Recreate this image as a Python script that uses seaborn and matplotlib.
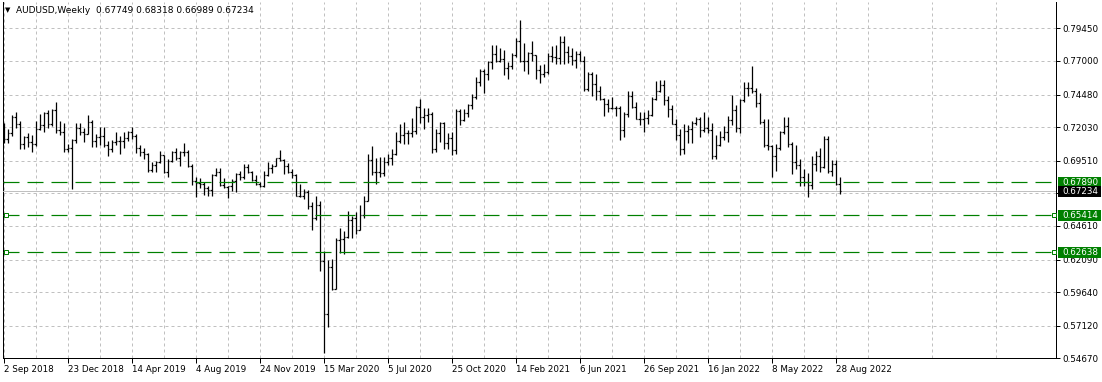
import numpy as np
import pandas as pd
import matplotlib
matplotlib.use("Agg")
import matplotlib.pyplot as plt
import matplotlib.transforms as mtransforms
from matplotlib.patches import Rectangle
from matplotlib.ticker import FixedLocator
import seaborn as sns

# ---------------- data ----------------
symbol = "AUDUSD"
timeframe = "Weekly"

week_open = [
    0.7193, 0.7112, 0.7160, 0.7280, 0.7226, 0.7075, 0.7128, 0.7095, 0.7079, 0.7192,
    0.7221, 0.7308, 0.7225, 0.7329, 0.7185, 0.7164, 0.7038, 0.7047,
    0.7110, 0.7198, 0.7168, 0.7155, 0.7245, 0.7096, 0.7130, 0.7136, 0.7071, 0.7040,
    0.7090, 0.7096, 0.7096, 0.7118, 0.7168, 0.7133, 0.7048, 0.7020, 0.7003, 0.6881,
    0.6922, 0.6941, 0.6993, 0.6867, 0.6948, 0.7019, 0.6972, 0.7020, 0.7019, 0.6909,
    0.6796, 0.6784, 0.6778, 0.6747, 0.6733, 0.6846, 0.6869, 0.6766, 0.6752, 0.6764,
    0.6801, 0.6853, 0.6825, 0.6903, 0.6864, 0.6805, 0.6777, 0.6763, 0.6843, 0.6900,
    0.6915, 0.6972,
    0.6958, 0.6908, 0.6867, 0.6845, 0.6688, 0.6685, 0.6716, 0.6612, 0.6519, 0.6620,
    0.6200, 0.5800, 0.6150, 0.5990, 0.6355, 0.6360, 0.6380, 0.6505, 0.6524, 0.6430,
    0.6540, 0.6650, 0.6960, 0.6868, 0.6865, 0.6861, 0.6940, 0.6975, 0.7003, 0.7100,
    0.7144, 0.7160, 0.7160, 0.7172, 0.7358, 0.7276, 0.7294, 0.7302, 0.7036, 0.7156,
    0.7234, 0.7085, 0.7118, 0.7028, 0.7325, 0.7260, 0.7307, 0.7366, 0.7431, 0.7540,
    0.7625, 0.7599,
    0.7692, 0.7751, 0.7703, 0.7713, 0.7648, 0.7665, 0.7744, 0.7849, 0.7697, 0.7702,
    0.7762, 0.7743, 0.7635, 0.7601, 0.7620, 0.7741, 0.7727, 0.7723, 0.7841, 0.7770,
    0.7737, 0.7710, 0.7751, 0.7701, 0.7488, 0.7602, 0.7525, 0.7478, 0.7412, 0.7376,
    0.7344, 0.7344, 0.7350, 0.7181, 0.7303, 0.7437, 0.7358, 0.7268, 0.7262, 0.7272,
    0.7296, 0.7412, 0.7478, 0.7520, 0.7406, 0.7336, 0.7227, 0.7141, 0.7041, 0.7175,
    0.7186, 0.7231,
    0.7268, 0.7180, 0.7198, 0.7180, 0.6990, 0.7069, 0.7128, 0.7166, 0.7260, 0.7332,
    0.7199, 0.7404, 0.7500, 0.7496, 0.7475, 0.7385, 0.7243, 0.7066, 0.7061, 0.6985,
    0.7047, 0.7165, 0.7215, 0.7077, 0.6939, 0.6919, 0.6829, 0.6794, 0.6767, 0.6930,
    0.6986, 0.6903, 0.7114, 0.6870, 0.6929, 0.67749,
]
week_high = [
    0.7236, 0.7190, 0.7297, 0.7315, 0.7253, 0.7140, 0.7158, 0.7141, 0.7250, 0.7305,
    0.7320, 0.7330, 0.7336, 0.7394, 0.7250, 0.7234, 0.7075, 0.7115,
    0.7236, 0.7236, 0.7196, 0.7296, 0.7255, 0.7150, 0.7206, 0.7205, 0.7097, 0.7107,
    0.7169, 0.7138, 0.7167, 0.7174, 0.7206, 0.7148, 0.7069, 0.7050, 0.7008, 0.6943,
    0.6947, 0.7022, 0.6997, 0.6961, 0.7023, 0.7048, 0.7025, 0.7083, 0.7029, 0.6930,
    0.6826, 0.6818, 0.6793, 0.6760, 0.6852, 0.6894, 0.6894, 0.6820, 0.6762, 0.6810,
    0.6860, 0.6873, 0.6929, 0.6930, 0.6874, 0.6847, 0.6788, 0.6875, 0.6940, 0.6930,
    0.6975, 0.7032,
    0.6965, 0.6934, 0.6890, 0.6850, 0.6775, 0.6737, 0.6730, 0.6638, 0.6685, 0.6650,
    0.6270, 0.6205, 0.6213, 0.6370, 0.6445, 0.6425, 0.6570, 0.6532, 0.6565, 0.6617,
    0.6683, 0.7000, 0.7064, 0.6975, 0.6976, 0.6979, 0.7000, 0.7038, 0.7165, 0.7227,
    0.7243, 0.7184, 0.7275, 0.7362, 0.7413, 0.7345, 0.7345, 0.7320, 0.7191, 0.7244,
    0.7243, 0.7158, 0.7166, 0.7340, 0.7339, 0.7340, 0.7376, 0.7455, 0.7580, 0.7640,
    0.7640, 0.7700,
    0.7820, 0.7819, 0.7800, 0.7785, 0.7690, 0.7760, 0.7870, 0.8007, 0.7838, 0.7769,
    0.7849, 0.7746, 0.7667, 0.7674, 0.7762, 0.7815, 0.7818, 0.7891, 0.7887, 0.7812,
    0.7799, 0.7775, 0.7776, 0.7740, 0.7617, 0.7617, 0.7599, 0.7511, 0.7420, 0.7415,
    0.7427, 0.7365, 0.7360, 0.7317, 0.7478, 0.7478, 0.7392, 0.7317, 0.7316, 0.7334,
    0.7426, 0.7547, 0.7556, 0.7555, 0.7434, 0.7370, 0.7262, 0.7186, 0.7223, 0.7222,
    0.7249, 0.7277,
    0.7278, 0.7314, 0.7277, 0.7236, 0.7141, 0.7171, 0.7208, 0.7285, 0.7441, 0.7370,
    0.7415, 0.7540, 0.7541, 0.7661, 0.7500, 0.7458, 0.7265, 0.7266, 0.7071, 0.7073,
    0.7174, 0.7283, 0.7283, 0.7090, 0.7069, 0.6964, 0.6890, 0.6860, 0.6984, 0.7021,
    0.7047, 0.7137, 0.7136, 0.6960, 0.6960, 0.68318,
]
week_low = [
    0.7085, 0.7085, 0.7140, 0.7200, 0.7040, 0.7041, 0.7057, 0.7020, 0.7060, 0.7182,
    0.7164, 0.7199, 0.7210, 0.7160, 0.7146, 0.7016, 0.7016, 0.6735,
    0.7085, 0.7144, 0.7091, 0.7150, 0.7055, 0.7055, 0.7070, 0.7053, 0.6985, 0.7015,
    0.7070, 0.7004, 0.7050, 0.7102, 0.7115, 0.7010, 0.6988, 0.6961, 0.6864, 0.6865,
    0.6865, 0.6935, 0.6860, 0.6832, 0.6944, 0.6955, 0.6911, 0.6990, 0.6903, 0.6765,
    0.6677, 0.6744, 0.6690, 0.6688, 0.6687, 0.6838, 0.6758, 0.6743, 0.6671, 0.6724,
    0.6716, 0.6808, 0.6812, 0.6860, 0.6798, 0.6769, 0.6754, 0.6757, 0.6838, 0.6857,
    0.6913, 0.6952,
    0.6850, 0.6862, 0.6819, 0.6683, 0.6680, 0.6663, 0.6585, 0.6434, 0.6505, 0.6120,
    0.5506, 0.5705, 0.5980, 0.5985, 0.6255, 0.6253, 0.6370, 0.6372, 0.6402, 0.6430,
    0.6520, 0.6648, 0.6840, 0.6777, 0.6832, 0.6833, 0.6921, 0.6922, 0.6993, 0.7084,
    0.7076, 0.7076, 0.7132, 0.7148, 0.7233, 0.7191, 0.7239, 0.7006, 0.7019, 0.7095,
    0.7036, 0.7040, 0.6991, 0.7000, 0.7220, 0.7250, 0.7280, 0.7340, 0.7411, 0.7510,
    0.7462, 0.7560,
    0.7640, 0.7693, 0.7692, 0.7592, 0.7564, 0.7640, 0.7728, 0.7689, 0.7622, 0.7601,
    0.7699, 0.7563, 0.7532, 0.7580, 0.7599, 0.7691, 0.7675, 0.7675, 0.7676, 0.7687,
    0.7672, 0.7647, 0.7699, 0.7476, 0.7478, 0.7440, 0.7410, 0.7410, 0.7288, 0.7316,
    0.7339, 0.7289, 0.7106, 0.7130, 0.7282, 0.7346, 0.7263, 0.7222, 0.7170, 0.7223,
    0.7287, 0.7406, 0.7470, 0.7371, 0.7277, 0.7225, 0.7108, 0.6993, 0.7000, 0.7084,
    0.7085, 0.7220,
    0.7130, 0.7170, 0.7160, 0.6967, 0.6967, 0.7060, 0.7110, 0.7094, 0.7220, 0.7166,
    0.7158, 0.7390, 0.7435, 0.7461, 0.7354, 0.7230, 0.7054, 0.7030, 0.6829, 0.6870,
    0.7035, 0.7152, 0.7054, 0.6850, 0.6890, 0.6763, 0.6762, 0.6681, 0.6737, 0.6870,
    0.6869, 0.6900, 0.6860, 0.6838, 0.6770, 0.66989,
]
week_close = [
    0.7112, 0.7160, 0.7280, 0.7226, 0.7075, 0.7128, 0.7095, 0.7079, 0.7192, 0.7221,
    0.7308, 0.7225, 0.7329, 0.7185, 0.7164, 0.7038, 0.7047, 0.7110,
    0.7198, 0.7168, 0.7155, 0.7245, 0.7096, 0.7130, 0.7136, 0.7071, 0.7040, 0.7090,
    0.7096, 0.7096, 0.7118, 0.7168, 0.7133, 0.7048, 0.7020, 0.7003, 0.6881, 0.6922,
    0.6941, 0.6993, 0.6867, 0.6948, 0.7019, 0.6972, 0.7020, 0.7019, 0.6909, 0.6796,
    0.6784, 0.6778, 0.6747, 0.6733, 0.6846, 0.6869, 0.6766, 0.6752, 0.6764, 0.6801,
    0.6853, 0.6825, 0.6903, 0.6864, 0.6805, 0.6777, 0.6763, 0.6843, 0.6900, 0.6915,
    0.6972, 0.6958,
    0.6908, 0.6867, 0.6845, 0.6688, 0.6685, 0.6716, 0.6612, 0.6519, 0.6620, 0.6200,
    0.5800, 0.6150, 0.5990, 0.6355, 0.6360, 0.6380, 0.6505, 0.6524, 0.6430, 0.6540,
    0.6650, 0.6960, 0.6868, 0.6865, 0.6861, 0.6940, 0.6975, 0.7003, 0.7100, 0.7144,
    0.7160, 0.7160, 0.7172, 0.7358, 0.7276, 0.7294, 0.7302, 0.7036, 0.7156, 0.7234,
    0.7085, 0.7118, 0.7028, 0.7325, 0.7260, 0.7307, 0.7366, 0.7431, 0.7540, 0.7625,
    0.7599, 0.7692,
    0.7751, 0.7703, 0.7713, 0.7648, 0.7665, 0.7744, 0.7849, 0.7697, 0.7702, 0.7762,
    0.7743, 0.7635, 0.7601, 0.7620, 0.7741, 0.7727, 0.7723, 0.7841, 0.7770, 0.7737,
    0.7710, 0.7751, 0.7701, 0.7488, 0.7602, 0.7525, 0.7478, 0.7412, 0.7376, 0.7344,
    0.7344, 0.7350, 0.7181, 0.7303, 0.7437, 0.7358, 0.7268, 0.7262, 0.7272, 0.7296,
    0.7412, 0.7478, 0.7520, 0.7406, 0.7336, 0.7227, 0.7141, 0.7041, 0.7175, 0.7186,
    0.7231, 0.7268,
    0.7180, 0.7198, 0.7180, 0.6990, 0.7069, 0.7128, 0.7166, 0.7260, 0.7332, 0.7199,
    0.7404, 0.7500, 0.7496, 0.7475, 0.7385, 0.7243, 0.7066, 0.7061, 0.6985, 0.7047,
    0.7165, 0.7215, 0.7077, 0.6939, 0.6919, 0.6829, 0.6794, 0.6767, 0.6930, 0.6986,
    0.6903, 0.7114, 0.6870, 0.6929, 0.6775, 0.67234,
]

date_labels = ["2 Sep 2018", "23 Dec 2018", "14 Apr 2019", "4 Aug 2019", "24 Nov 2019",
               "15 Mar 2020", "5 Jul 2020", "25 Oct 2020", "14 Feb 2021", "6 Jun 2021",
               "26 Sep 2021", "16 Jan 2022", "8 May 2022", "28 Aug 2022"]
date_label_weeks = [0, 16, 32, 48, 64, 80, 96, 112, 128, 144, 160, 176, 192, 208]

price_ticks = [0.79450, 0.77000, 0.74480, 0.72030, 0.69510, 0.67060,
               0.64610, 0.62090, 0.59640, 0.57120, 0.54670]
price_tick_labels = ["0.79450", "0.77000", "0.74480", "0.72030", "0.69510", "",
                     "0.64610", "0.62090", "0.59640", "0.57120", "0.54670"]

level_prices = [0.67890, 0.65414, 0.62638]
level_labels = ["0.67890", "0.65414", "0.62638"]
level_anchored = [False, True, True]
current_price = 0.67234
current_label = "0.67234"

# ---------------- style ----------------
sns.set_theme(style="white")
plt.rcParams["font.family"] = ["DejaVu Sans"]
plt.rcParams["lines.scale_dashes"] = False

W, H = 1102, 382
PT = 0.72  # points per pixel at dpi 100
GREEN = "#008000"
GRID = "#c0c0c0"
FS = 6.3

fig = plt.figure(figsize=(W / 100, H / 100), dpi=100)
fig.patch.set_facecolor("white")
ax_l, ax_r, ax_t, ax_b = 3, 1056, 2, 358.3
ax_w_px = ax_r - ax_l
ax = fig.add_axes([ax_l / W, 1 - ax_b / H, ax_w_px / W, (ax_b - ax_t) / H])
ax.set_facecolor("white")

n = len(week_open)
idx = np.arange(n)
ax.set_xlim(-0.125, -0.125 + ax_w_px / 4.0)
ax.set_ylim(0.54670, 0.81430)

# ---------------- OHLC bars via seaborn ----------------
hl = pd.DataFrame({
    "x": np.repeat(idx, 2).astype(float),
    "price": np.column_stack([week_low, week_high]).ravel(),
    "bar": np.repeat(idx, 2),
})
op = pd.DataFrame({
    "x": np.column_stack([idx - 0.45, idx + 0.0]).ravel(),
    "price": np.repeat(week_open, 2),
    "bar": np.repeat(idx, 2),
})
cl = pd.DataFrame({
    "x": np.column_stack([idx + 0.0, idx + 0.45]).ravel(),
    "price": np.repeat(week_close, 2),
    "bar": np.repeat(idx, 2),
})
for df in (hl, op, cl):
    sns.lineplot(data=df, x="x", y="price", units="bar", estimator=None,
                 color="black", linewidth=1.0 * PT * 1.25, ax=ax, legend=False,
                 solid_capstyle="butt", zorder=4)

# ---------------- grid ----------------
ax.xaxis.set_major_locator(FixedLocator(date_label_weeks))
ax.xaxis.set_minor_locator(FixedLocator(list(range(8, 264, 16))))
ax.set_xticklabels(date_labels)
ax.yaxis.tick_right()
ax.set_yticks(price_ticks)
ax.set_yticklabels(price_tick_labels)
grid_kw = dict(color=GRID, linewidth=PT, linestyle=(0, (3 * PT, 3 * PT)))
ax.grid(True, which="major", axis="both", **grid_kw)
ax.grid(True, which="minor", axis="x", **grid_kw)
ax.set_axisbelow(True)

ax.tick_params(axis="x", which="major", direction="out", length=5 * PT, width=PT,
               color="black", pad=1.5 * PT, labelsize=FS, labelcolor="black",
               bottom=True)
ax.tick_params(axis="x", which="minor", length=0, bottom=False)
ax.tick_params(axis="y", which="major", direction="out", length=4 * PT, width=PT,
               color="black", pad=2 * PT, labelsize=FS, labelcolor="black",
               right=True, left=False)
for lab in ax.get_xticklabels():
    lab.set_horizontalalignment("left")
ax.set_xlabel("")
ax.set_ylabel("")

for side in ("left", "right", "bottom"):
    ax.spines[side].set_visible(True)
    ax.spines[side].set_color("black")
    ax.spines[side].set_linewidth(PT)
ax.spines["top"].set_visible(False)

# ---------------- horizontal levels ----------------
ax.axhline(current_price, color=GRID, linewidth=PT, zorder=3)
for p in level_prices:
    ax.axhline(p, color=GREEN, linewidth=1.2 * PT,
               linestyle=(0, (16 * PT, 8 * PT)), zorder=5)

blend = mtransforms.blended_transform_factory(ax.transAxes, ax.transData)
for p, anch in zip(level_prices, level_anchored):
    if anch:
        ax.plot([2.5 / ax_w_px, 1 - 2.5 / ax_w_px], [p, p], transform=blend,
                linestyle="none", marker="s", markersize=4 * PT,
                markerfacecolor="white", markeredgecolor=GREEN,
                markeredgewidth=PT, clip_on=False, zorder=6)

# price tags on the right
y0, y1 = ax.get_ylim()
px_per_unit = (ax_b - ax_t) / (y1 - y0)
box_h = 11 / px_per_unit


def price_tag(price, text, face):
    ax.add_patch(Rectangle((1 + 1.5 / ax_w_px, price - box_h / 2), 43 / ax_w_px, box_h,
                           transform=blend, facecolor=face, edgecolor="none",
                           clip_on=False, zorder=10))
    ax.text(1 + 6.0 / ax_w_px, price, text, transform=blend, ha="left", va="center",
            color="white", fontsize=FS, clip_on=False, zorder=11)


for p, t in zip(level_prices, level_labels):
    price_tag(p, t, GREEN)
price_tag(current_price, current_label, "black")

# ---------------- header ----------------
fig.text(5 / W, 1 - 10.5 / H, "\u25BC", fontsize=5, ha="left", va="center", color="black")
header = f"{symbol},{timeframe}  " + " ".join(
    f"{v:.5f}" for v in (week_open[-1], week_high[-1], week_low[-1], week_close[-1]))
fig.text(16 / W, 1 - 10.5 / H, header, fontsize=FS + 0.2, ha="left", va="center",
         color="black")

fig.savefig("out.png", dpi=100, facecolor="white")
